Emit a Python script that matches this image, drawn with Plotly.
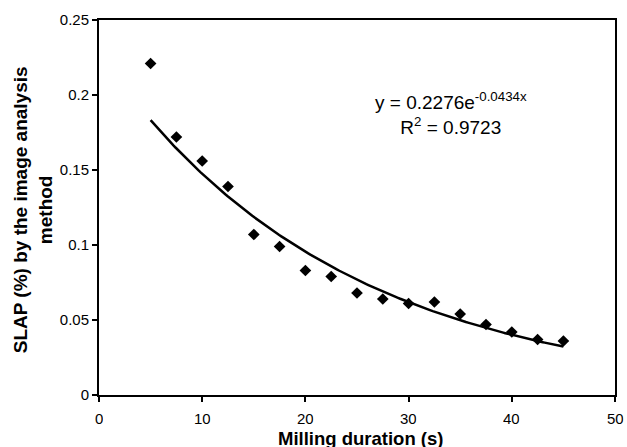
import numpy as np
import plotly.graph_objects as go

# Data
milling_s = [5, 7.5, 10, 12.5, 15, 17.5, 20, 22.5, 25, 27.5, 30, 32.5, 35, 37.5, 40, 42.5, 45]
slap_pct = [0.221, 0.172, 0.156, 0.139, 0.107, 0.099, 0.083, 0.079, 0.068, 0.064,
            0.061, 0.062, 0.054, 0.047, 0.042, 0.037, 0.036]

# Exponential trendline coefficients shown on the chart
fit_a = 0.2276
fit_b = -0.0434
fit_x = np.linspace(min(milling_s), max(milling_s), 200)
fit_y = fit_a * np.exp(fit_b * fit_x)

x_ticks = [0, 10, 20, 30, 40, 50]
x_tick_text = ["0", "10", "20", "30", "40", "50"]
y_ticks = [0, 0.05, 0.1, 0.15, 0.2, 0.25]
y_tick_text = ["0", "0.05", "0.1", "0.15", "0.2", "0.25"]

FONT = "Arial, Liberation Sans, sans-serif"
PLOT_H = 375
PLOT_BOTTOM = 395

fig = go.Figure()
fig.add_trace(go.Scatter(
    x=fit_x, y=fit_y, mode="lines",
    line=dict(color="black", width=2.5),
    showlegend=False, hoverinfo="skip",
))
fig.add_trace(go.Scatter(
    x=milling_s, y=slap_pct, mode="markers",
    marker=dict(symbol="diamond", size=9, color="black"),
    showlegend=False,
))

annotations = []
# x tick labels placed slightly lower than plotly's default
for v, t in zip(x_ticks, x_tick_text):
    annotations.append(dict(
        text=t, xref="x", yref="paper", x=v, y=-(418 - PLOT_BOTTOM) / PLOT_H,
        xanchor="center", yanchor="middle", showarrow=False, height=14,
        font=dict(size=15, family=FONT),
    ))
annotations += [
    dict(
        text="<b>Milling duration (s)</b>", xref="paper", yref="paper",
        x=(362 - 99) / 518, y=-(438 - PLOT_BOTTOM) / PLOT_H, xanchor="center", yanchor="middle",
        showarrow=False, height=18, font=dict(size=18.5, family=FONT),
    ),
    dict(
        text="<b>SLAP (%) by the image analysis<br>method</b>", xref="paper", yref="paper",
        x=(33 - 99) / 518, y=1 - (210 - 20) / PLOT_H, xanchor="center", yanchor="middle",
        textangle=-90, showarrow=False, font=dict(size=19, family=FONT),
    ),
    dict(
        text="y = 0.2276e<sup>-0.0434x</sup><br>R<sup>2</sup> = 0.9723",
        xref="paper", yref="paper",
        x=(452 - 99) / 518, y=1 - (114 - 20) / PLOT_H, xanchor="center", yanchor="middle",
        align="center", showarrow=False, font=dict(size=19, family=FONT),
    ),
]

fig.update_layout(
    width=627, height=447,
    margin=dict(l=99, r=10, t=20, b=52),
    paper_bgcolor="white", plot_bgcolor="white",
    font=dict(family=FONT, size=15, color="black"),
    xaxis=dict(
        range=[0, 50], tickvals=x_ticks, ticks="outside", ticklen=5,
        tickwidth=1.5, tickcolor="black", showgrid=False, zeroline=False,
        showline=True, linecolor="black", linewidth=2, mirror=True,
        showticklabels=False,
    ),
    yaxis=dict(
        range=[0, 0.25], tickvals=y_ticks, ticktext=y_tick_text, ticks="outside",
        ticklen=5, tickwidth=1.5, tickcolor="black", showgrid=False, zeroline=False,
        showline=True, linecolor="black", linewidth=2, mirror=True,
        tickfont=dict(size=15),
    ),
    annotations=annotations,
)

fig.write_html("out.html")
